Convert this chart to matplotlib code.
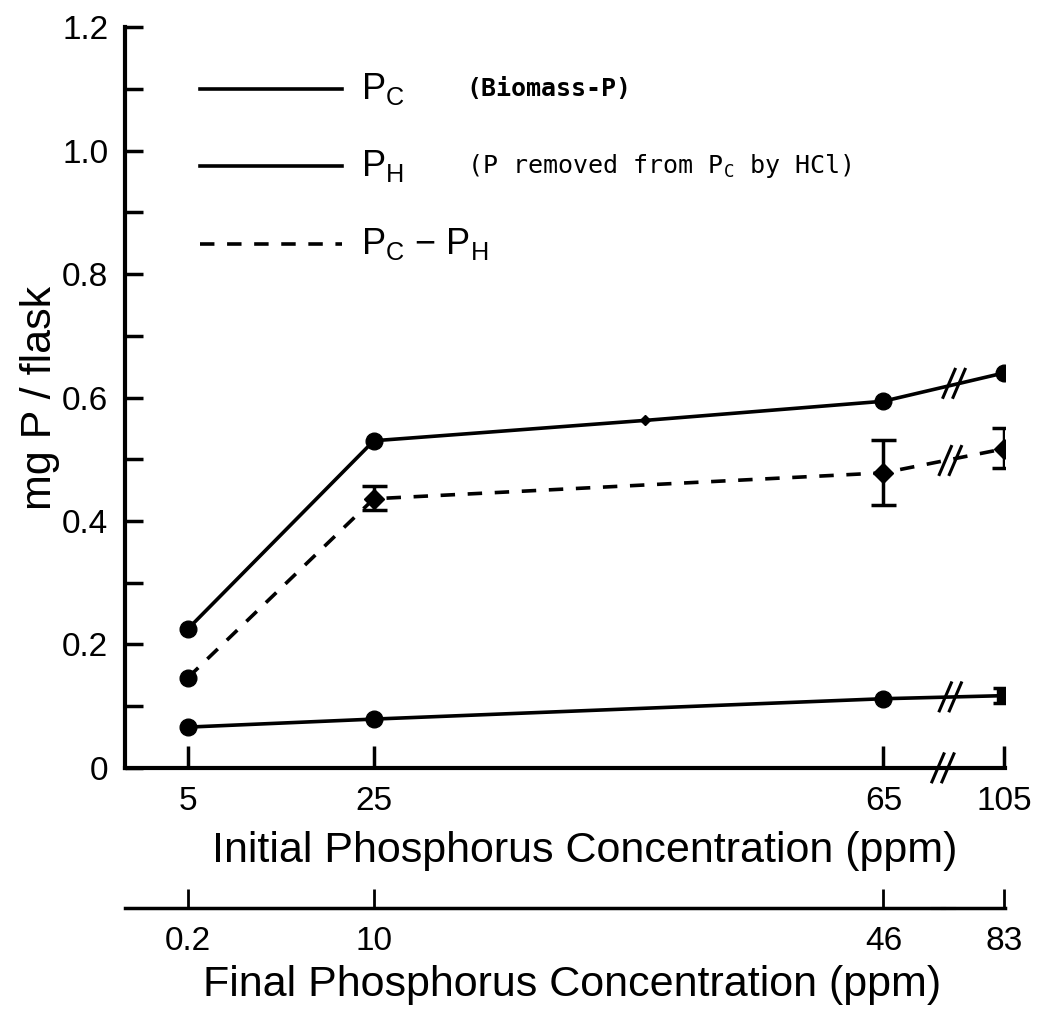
import matplotlib.pyplot as plt

plt.rcParams['font.family'] = ['Liberation Sans', 'DejaVu Sans']
plt.rcParams['mathtext.fontset'] = 'custom'
plt.rcParams['mathtext.rm'] = 'Liberation Sans'

# x axis is broken / non-linear, so points sit at fixed positions
initial_ppm = ['5', '25', '65', '105']
final_ppm = ['0.2', '10', '46', '83']
x_pos = [0, 1, 3.74, 4.39]

# Pc (biomass P), with the small intermediate dot on the line
pc_x = [0, 1, 2.46, 3.74, 4.39]
pc = [0.225, 0.530, 0.563, 0.594, 0.640]

# Pc - Ph
diff = [0.146, 0.436, 0.478, 0.517]
diff_err_lo = [0.0, 0.018, 0.052, 0.031]
diff_err_hi = [0.0, 0.021, 0.053, 0.033]

# Ph (P removed from Pc by HCl)
ph = [0.066, 0.079, 0.112, 0.117]
ph_err = [0.0, 0.0, 0.0, 0.012]

fig = plt.figure(figsize=(10.4, 10.09), dpi=100)
ax = fig.add_axes([0.120, 0.239, 0.846, 0.734])

LW = 2.6
ax.plot(pc_x, pc, color='black', lw=LW)
ax.plot(x_pos, pc[:1] + pc[1:2] + pc[3:], 'o', color='black', ms=12)
ax.plot(pc_x[2], pc[2], 'D', color='black', ms=5)

ax.plot(x_pos, diff, '--', color='black', lw=LW, dashes=(4, 3.5))
ax.plot(x_pos[0], diff[0], 'o', color='black', ms=12)
ax.errorbar(x_pos[1:], diff[1:], yerr=[diff_err_lo[1:], diff_err_hi[1:]],
            fmt='D', color='black', ms=10, capsize=9, capthick=2.5, elinewidth=2.5)

ax.plot(x_pos, ph, color='black', lw=LW)
ax.plot(x_pos[:3], ph[:3], 'o', color='black', ms=12)
ax.errorbar(x_pos[3], ph[3], yerr=ph_err[3], fmt='s', color='black', ms=10,
            capsize=8, capthick=2.5, elinewidth=2.5)

# break marks ("//")
px_x = 1 / 186.0
px_y = 1.2 / 741.0


def brk(a, x, y):
    for off in (-5, 5):
        xs = [x + (off - 6) * px_x, x + (off + 6) * px_x]
        ys = [y - 14 * px_y, y + 14 * px_y]
        a.plot(xs, ys, color='black', lw=2.2, clip_on=False)


brk(ax, 4.12, 0.623)
brk(ax, 4.10, 0.498)
brk(ax, 4.10, 0.115)
brk(ax, 4.06, 0.0)

ax.set_xlim(-0.339, 4.392)
ax.set_ylim(0, 1.2)
ax.set_xticks(x_pos)
ax.set_xticklabels(initial_ppm)
ax.set_yticks([0, 0.2, 0.4, 0.6, 0.8, 1.0, 1.2])
ax.set_yticklabels(['0', '0.2', '0.4', '0.6', '0.8', '1.0', '1.2'])
ax.set_yticks([0.1, 0.3, 0.5, 0.7, 0.9, 1.1], minor=True)
ax.tick_params(axis='both', which='both', direction='in', width=2.5, labelsize=24)
ax.tick_params(axis='x', length=16, pad=13)
ax.tick_params(axis='y', which='both', length=13, pad=12)
ax.tick_params(top=False)
ax.spines['top'].set_visible(False)
ax.spines['right'].set_visible(False)
ax.spines['left'].set_linewidth(3)
ax.spines['bottom'].set_linewidth(3)
ax.set_ylabel('mg P / flask', fontsize=31, labelpad=1)
ax.set_xlabel('Initial Phosphorus Concentration (ppm)', fontsize=31, labelpad=10)
ax.xaxis.label.set_x(0.523)

# legend drawn by hand
leg_y = [1.1, 0.975, 0.848]
for yy, ls in zip(leg_y, ['-', '-', '--']):
    ax.plot([0.065, 0.83], [yy, yy], ls, color='black', lw=LW,
            dashes=(4, 3.5) if ls == '--' else (None, None))
ax.text(0.93, leg_y[0], r'$\mathregular{P_C}$', fontsize=26, va='center')
ax.text(1.5, leg_y[0], '(Biomass-P)', fontsize=18, fontweight='bold', va='center',
        family='DejaVu Sans Mono')
ax.text(0.93, leg_y[1], r'$\mathregular{P_H}$', fontsize=26, va='center')
ax.text(1.5, leg_y[1], r'(P removed from $\mathregular{P_C}$ by HCl)', fontsize=18,
        va='center', family='DejaVu Sans Mono')
ax.text(0.93, leg_y[2], r'$\mathregular{P_C}$ $-$ $\mathregular{P_H}$', fontsize=26, va='center')

# second (final concentration) axis
ax2 = fig.add_axes([0.120, 1 - 908 / 1009, 0.846, 0.0])
ax2.set_xlim(ax.get_xlim())
ax2.set_yticks([])
for s in ['top', 'left', 'right']:
    ax2.spines[s].set_visible(False)
ax2.spines['bottom'].set_linewidth(2.5)
ax2.set_xticks(x_pos)
ax2.set_xticklabels(final_ppm)
ax2.tick_params(axis='x', direction='in', length=14, width=2, labelsize=24, pad=13)
ax2.set_xlabel('Final Phosphorus Concentration (ppm)', fontsize=31, labelpad=6)
ax2.xaxis.label.set_x(0.508)
brk(ax2, 4.06, 0.0)

fig.savefig('out.png', dpi=100)
